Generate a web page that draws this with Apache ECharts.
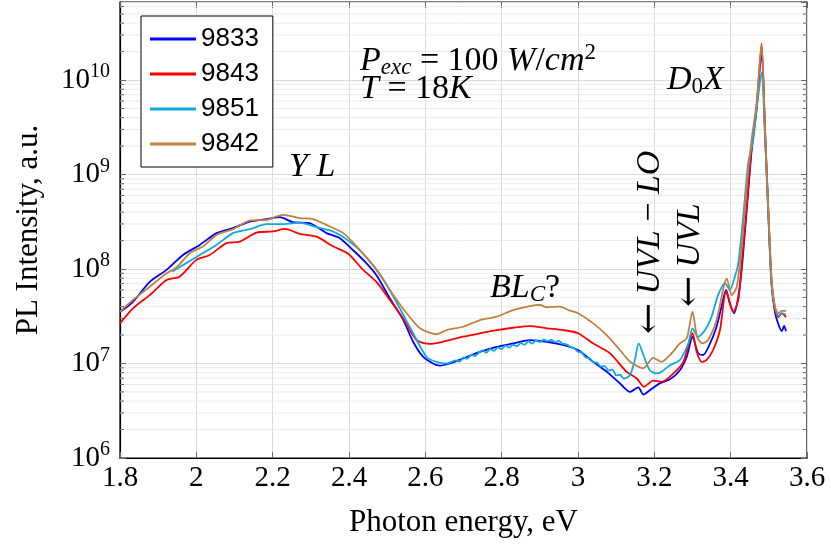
<!DOCTYPE html>
<html><head><meta charset="utf-8">
<script src="https://cdn.jsdelivr.net/npm/echarts@6/dist/echarts.min.js"></script>
<style>html,body{margin:0;padding:0;background:#fff}#c{width:831px;height:544px}</style>
</head><body><div id="c"></div>
<script>
// ---- data (photon energy eV, PL intensity a.u.) ----
const seriesNames = ['9833', '9843', '9851', '9842'];
const seriesColors = ['#0000ff', '#ff0000', '#10a8e0', '#bf8040'];
const xTicks = [1.8, 2.0, 2.2, 2.4, 2.6, 2.8, 3.0, 3.2, 3.4, 3.6];
const yMajor = [1e6, 1e7, 1e8, 1e9, 1e10];
const yMax = 6.7e10;

const s9833 = [[1.80,3.5e7],[1.834,4.5e7],[1.878,7.3e7],[1.922,9.8e7],[1.965,1.41e8],[2.009,1.80e8],[2.053,2.40e8],[2.096,2.71e8],[2.140,3.18e8],[2.184,3.37e8],[2.219,3.54e8],[2.253,3.13e8],[2.297,3.06e8],[2.341,2.40e8],[2.376,2.12e8],[2.411,1.58e8],[2.446,1.15e8],[2.472,8.6e7],[2.507,4.9e7],[2.542,2.9e7],[2.568,1.7e7],[2.594,1.18e7],[2.620,1.0e7],[2.638,9.5e6],[2.664,1.0e7],[2.699,1.13e7],[2.743,1.33e7],[2.787,1.5e7],[2.830,1.63e7],[2.874,1.77e7],[2.918,1.7e7],[2.961,1.57e7],[3.000,1.39e7],[3.040,1.04e7],[3.075,8.2e6],[3.110,6.15e6],[3.136,5.0e6],[3.158,5.6e6],[3.171,4.7e6],[3.193,5.4e6],[3.215,6.2e6],[3.241,6.8e6],[3.267,8.5e6],[3.285,1.18e7],[3.300,1.92e7],[3.315,1.28e7],[3.328,1.23e7],[3.346,1.63e7],[3.363,2.45e7],[3.376,4.0e7],[3.388,6.0e7],[3.398,4.3e7],[3.409,3.4e7],[3.420,5.1e7],[3.429,1.0e8],[3.442,4.2e8],[3.455,1.8e9],[3.468,5.0e9],[3.481,2.0e10],[3.490,2.8e9],[3.499,3.6e8],[3.507,7.0e7],[3.516,3.5e7],[3.525,2.6e7],[3.534,2.2e7],[3.540,2.5e7],[3.545,2.2e7]];

const s9843 = [[1.80,2.66e7],[1.834,3.84e7],[1.878,5.3e7],[1.922,7.65e7],[1.956,8.3e7],[2.000,1.25e8],[2.035,1.41e8],[2.079,1.88e8],[2.114,1.95e8],[2.158,2.43e8],[2.201,2.5e8],[2.232,2.66e8],[2.271,2.36e8],[2.315,2.2e8],[2.358,1.74e8],[2.398,1.45e8],[2.437,9.8e7],[2.472,7.3e7],[2.507,4.7e7],[2.542,3.0e7],[2.577,1.77e7],[2.612,1.61e7],[2.647,1.7e7],[2.699,1.92e7],[2.743,2.09e7],[2.787,2.26e7],[2.830,2.39e7],[2.874,2.49e7],[2.918,2.36e7],[2.961,2.26e7],[3.000,2.09e7],[3.040,1.63e7],[3.084,1.28e7],[3.127,8.2e6],[3.154,6.95e6],[3.173,5.67e6],[3.197,6.6e6],[3.219,6.4e6],[3.250,7.85e6],[3.276,1.04e7],[3.300,2.09e7],[3.311,1.33e7],[3.324,1.04e7],[3.337,1.09e7],[3.354,1.39e7],[3.372,2.26e7],[3.388,5.8e7],[3.407,3.53e7],[3.420,4.7e7],[3.429,1.15e8],[3.442,4.6e8],[3.455,2.0e9],[3.468,5.2e9],[3.481,2.45e10],[3.490,3.0e9],[3.499,3.9e8],[3.507,7.7e7],[3.516,3.7e7],[3.525,3.1e7],[3.534,3.4e7],[3.545,3.1e7]];

const s9851 = [[1.937,9.4e7],[1.965,1.1e8],[2.009,1.41e8],[2.053,1.8e8],[2.096,2.4e8],[2.140,2.64e8],[2.184,2.98e8],[2.227,2.98e8],[2.271,3.1e8],[2.315,2.77e8],[2.358,2.5e8],[2.402,1.95e8],[2.446,1.33e8],[2.489,7.9e7],[2.533,3.84e7],[2.568,2.09e7],[2.603,1.18e7],[2.629,1.04e7],[2.656,1.0e7],[2.68,1.08e7],[2.69,1.05e7],[2.70,1.16e7],[2.71,1.12e7],[2.72,1.24e7],[2.73,1.2e7],[2.74,1.3e7],[2.75,1.38e7],[2.76,1.3e7],[2.77,1.42e7],[2.78,1.36e7],[2.79,1.48e7],[2.80,1.42e7],[2.81,1.55e7],[2.82,1.47e7],[2.83,1.58e7],[2.84,1.52e7],[2.85,1.64e7],[2.86,1.58e7],[2.87,1.72e7],[2.88,1.62e7],[2.89,1.76e7],[2.90,1.68e7],[2.91,1.8e7],[2.92,1.72e7],[2.93,1.78e7],[2.94,1.68e7],[2.95,1.74e7],[2.96,1.62e7],[2.97,1.6e7],[2.98,1.5e7],[2.99,1.45e7],[3.00,1.33e7],[3.01,1.3e7],[3.02,1.16e7],[3.03,1.14e7],[3.04,1.04e7],[3.05,1.02e7],[3.06,9.3e6],[3.07,9.4e6],[3.08,8.4e6],[3.09,8.6e6],[3.10,7.5e6],[3.11,7.6e6],[3.12,6.9e6],[3.136,7.5e6],[3.149,1.09e7],[3.159,1.63e7],[3.173,1.18e7],[3.188,8.5e6],[3.206,7.85e6],[3.219,8.2e6],[3.241,9.6e6],[3.267,1.09e7],[3.289,1.63e7],[3.300,2.36e7],[3.315,1.92e7],[3.333,2.26e7],[3.350,3.13e7],[3.367,5.3e7],[3.385,7.1e7],[3.398,6.0e7],[3.411,8.3e7],[3.420,1.15e8],[3.433,3.6e8],[3.446,1.32e9],[3.459,2.34e9],[3.472,6.8e9],[3.481,1.2e10],[3.490,2.5e9],[3.499,3.5e8],[3.507,7.0e7],[3.516,4.0e7],[3.525,3.2e7],[3.534,3.4e7],[3.545,3.3e7]];

const s9842 = [[1.80,3.53e7],[1.834,4.7e7],[1.878,6.5e7],[1.922,9.0e7],[1.948,1.04e8],[1.983,1.47e8],[2.018,1.74e8],[2.053,2.3e8],[2.096,2.64e8],[2.140,3.26e8],[2.184,3.31e8],[2.227,3.75e8],[2.271,3.46e8],[2.306,3.38e8],[2.350,2.82e8],[2.385,2.4e8],[2.420,1.74e8],[2.472,9.8e7],[2.516,5.3e7],[2.551,3.4e7],[2.586,2.36e7],[2.629,2.04e7],[2.656,2.26e7],[2.699,2.45e7],[2.743,2.88e7],[2.787,3.13e7],[2.830,3.68e7],[2.874,4.06e7],[2.900,4.17e7],[2.918,3.94e7],[2.952,4.0e7],[2.979,3.63e7],[3.000,3.4e7],[3.040,2.66e7],[3.075,2.0e7],[3.110,1.39e7],[3.137,1.04e7],[3.171,8.9e6],[3.197,1.15e7],[3.219,1.04e7],[3.241,1.23e7],[3.267,1.63e7],[3.285,1.85e7],[3.300,3.53e7],[3.312,1.92e7],[3.326,1.63e7],[3.341,1.77e7],[3.363,2.88e7],[3.390,7.9e7],[3.403,5.3e7],[3.416,6.5e7],[3.429,1.74e8],[3.442,7.5e8],[3.455,2.34e9],[3.468,5.75e9],[3.481,2.4e10],[3.490,3.0e9],[3.499,4.0e8],[3.507,8.0e7],[3.516,4.0e7],[3.525,3.4e7],[3.534,3.6e7],[3.545,3.6e7]];

const seriesData = [s9833, s9843, s9851, s9842];

// minor log ticks 2..9 x 10^n
const yMinor = [];
for (let e = 6; e <= 10; e++) for (let m = 2; m <= 9; m++) { const v = m * Math.pow(10, e); if (v < yMax) yMinor.push(v); }

const SERIF = 'Liberation Serif';
const chart = echarts.init(document.getElementById('c'), null, {renderer: 'canvas'});

const lineSeries = seriesNames.map((n, i) => ({
  name: n, type: 'line', data: seriesData[i], showSymbol: false, symbol: 'none',
  smooth: 0.25, z: 3 + i,
  lineStyle: {color: seriesColors[i], width: 1.8},
  itemStyle: {color: seriesColors[i]}
}));

const minorSeries = {
  type: 'custom', silent: true, z: 1, clip: true,
  xAxisIndex: 0, yAxisIndex: 0,
  data: yMinor.map(v => [xTicks[0], v]),
  encode: {x: 0, y: 1},
  renderItem: function (params, api) {
    const cs = params.coordSys;
    const y = api.coord([api.value(0), api.value(1)])[1];
    return {type: 'group', children: [
      {type: 'line', shape: {x1: cs.x, y1: y, x2: cs.x + cs.width, y2: y}, style: {stroke: '#ebebeb', lineWidth: 1}},
      {type: 'line', shape: {x1: cs.x, y1: y, x2: cs.x + 4, y2: y}, style: {stroke: '#666', lineWidth: 1}},
      {type: 'line', shape: {x1: cs.x + cs.width - 4, y1: y, x2: cs.x + cs.width, y2: y}, style: {stroke: '#666', lineWidth: 1}}
    ]};
  }
};

const option = {
  animation: false,
  backgroundColor: '#fff',
  grid: {left: 120, right: 24, top: 2, bottom: 86, show: true, borderColor: '#000', borderWidth: 1.2, backgroundColor: 'transparent'},
  legend: {
    data: seriesNames, orient: 'vertical', left: 141, top: 16,
    icon: 'rect', itemWidth: 46, itemHeight: 3, itemGap: 5,
    padding: [8, 14, 8, 9], borderColor: '#000', borderWidth: 1, backgroundColor: '#fff',
    textStyle: {fontSize: 26, fontFamily: 'Liberation Sans', color: '#000', lineHeight: 30},
    z: 20
  },
  xAxis: [{
    type: 'value', min: xTicks[0], max: xTicks[xTicks.length - 1], interval: 0.2, position: 'bottom',
    axisLine: {show: true, lineStyle: {color: '#000', width: 1.2}},
    axisTick: {show: true, inside: true, length: 6, lineStyle: {color: '#666'}},
    axisLabel: {fontFamily: SERIF, fontSize: 29, color: '#000', margin: 6,
      formatter: v => String(parseFloat(v.toFixed(1)))},
    splitLine: {show: true, lineStyle: {color: '#dadada', width: 1}},
    name: 'Photon energy, eV', nameLocation: 'middle', nameGap: 49,
    nameTextStyle: {fontFamily: SERIF, fontSize: 31, color: '#000'}
  }, {
    type: 'value', min: xTicks[0], max: xTicks[xTicks.length - 1], interval: 0.2, position: 'top',
    axisLine: {show: false}, axisLabel: {show: false}, splitLine: {show: false},
    axisTick: {show: true, inside: true, length: 6, lineStyle: {color: '#666'}}
  }],
  yAxis: [{
    type: 'log', logBase: 10, min: yMajor[0], max: yMax, position: 'left',
    axisLine: {show: true, lineStyle: {color: '#000', width: 1.2}},
    axisTick: {show: true, inside: true, length: 6, lineStyle: {color: '#666'}},
    splitLine: {show: true, lineStyle: {color: '#dadada', width: 1}},
    axisLabel: {
      margin: 10, showMaxLabel: false,
      formatter: function (v) {
        const e = Math.log10(v);
        if (Math.abs(e - Math.round(e)) > 1e-6) return '';
        return '{b|10}{e|' + Math.round(e) + '}';
      },
      rich: {
        b: {fontFamily: SERIF, fontSize: 29, color: '#000'},
        e: {fontFamily: SERIF, fontSize: 20, color: '#000', padding: [0, 0, 16, 0]}
      }
    },
    name: 'PL Intensity, a.u.', nameLocation: 'middle', nameGap: 76,
    nameTextStyle: {fontFamily: SERIF, fontSize: 31, color: '#000'}
  }, {
    type: 'log', logBase: 10, min: yMajor[0], max: yMax, position: 'right',
    axisLine: {show: false}, axisLabel: {show: false}, splitLine: {show: false},
    axisTick: {show: true, inside: true, length: 6, lineStyle: {color: '#666'}}
  }],
  series: [minorSeries].concat(lineSeries)
};
chart.setOption(option);

// ---- text annotations ----
const FS = 34, FSS = 23;
const mi = {fontFamily: SERIF, fontStyle: 'italic', fontSize: FS, color: '#000'};
const mn = {fontFamily: SERIF, fontSize: FS, color: '#000'};
const sub = {fontFamily: SERIF, fontStyle: 'italic', fontSize: FSS, color: '#000', padding: [14, 0, 0, 0]};
const subn = {fontFamily: SERIF, fontSize: FSS, color: '#000', padding: [14, 0, 0, 0]};
const sup = {fontFamily: SERIF, fontSize: FSS, color: '#000', padding: [0, 0, 16, 0]};
const arr = {fontFamily: 'DejaVu Serif', fontSize: 37, color: '#000'};
const richM = {i: mi, n: mn, s: sub, sn: subn, p: sup, a: arr};
function txt(x, y, text, rot) {
  return {type: 'text', x: x, y: y, rotation: rot || 0, z: 30, silent: true,
    style: {text: text, rich: richM, align: 'left', verticalAlign: 'middle', fill: '#000'}};
}
chart.setOption({graphic: [
  txt(360, 61, '{i|P}{s|exc}{n| = 100 }{i|W}{n|/}{i|cm}{p|2}'),
  txt(360, 89, '{i|T}{n| = 18}{i|K}'),
  txt(289, 167, '{i|Y L}'),
  txt(490, 288, '{i|BL}{s|C}{n|?}'),
  txt(667, 80, '{i|D}{sn|0}{i|X}'),
  txt(650, 334, '{a|\u2190}{n| }{i|UVL}{n| \u2212 }{i|LO}', Math.PI / 2),
  txt(690, 307, '{a|\u2190}{n| }{i|UVL}', Math.PI / 2)
]});
</script></body></html>
